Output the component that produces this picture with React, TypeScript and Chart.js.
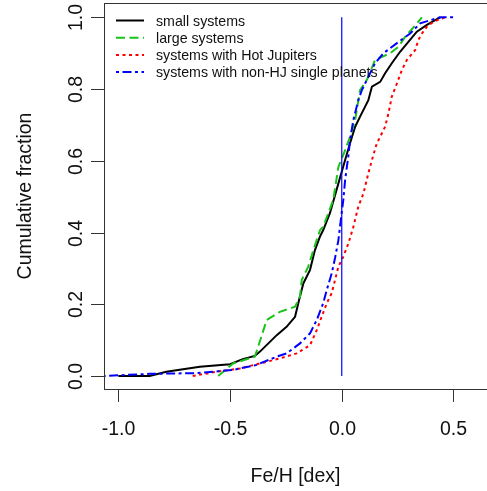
import React, { useEffect, useRef } from "react";
import { Chart, registerables } from "chart.js";

Chart.register(...registerables);

// ---- data ----
const xTicks = [-1.0, -0.5, 0.0, 0.5];
const yTicks = [0.0, 0.2, 0.4, 0.6, 0.8, 1.0];
const xTitle = "Fe/H [dex]";
const yTitle = "Cumulative fraction";
const seriesLabels = [
  "small systems",
  "large systems",
  "systems with Hot Jupiters",
  "systems with non-HJ single planets",
];

const smallX = [-1.0, -0.86, -0.785, -0.635, -0.5, -0.443, -0.389, -0.366, -0.291, -0.247, -0.209, -0.191, -0.172, -0.142, -0.12, -0.098, -0.083, -0.053, -0.015, 0.015, 0.037, 0.06, 0.082, 0.119, 0.135, 0.172, 0.194, 0.224, 0.261, 0.299, 0.336, 0.381, 0.418, 0.441];
const smallY = [0, 0, 0.012, 0.026, 0.033, 0.047, 0.056, 0.068, 0.114, 0.137, 0.165, 0.212, 0.258, 0.296, 0.351, 0.388, 0.407, 0.454, 0.537, 0.602, 0.649, 0.695, 0.723, 0.769, 0.807, 0.82, 0.844, 0.872, 0.904, 0.932, 0.96, 0.979, 0.992, 1.0];

const largeX = [-0.553, -0.486, -0.389, -0.374, -0.336, -0.277, -0.209, -0.187, -0.179, -0.15, -0.127, -0.097, -0.083, -0.038, -0.015, 0.015, 0.037, 0.06, 0.082, 0.112, 0.149, 0.217, 0.254, 0.284, 0.336, 0.359];
const largeY = [0, 0.035, 0.054, 0.082, 0.156, 0.179, 0.193, 0.221, 0.268, 0.305, 0.351, 0.407, 0.416, 0.491, 0.583, 0.63, 0.667, 0.714, 0.797, 0.825, 0.881, 0.9, 0.918, 0.946, 0.983, 1.0];

const hjX = [-0.667, -0.561, -0.456, -0.366, -0.277, -0.202, -0.142, -0.112, -0.09, -0.067, -0.045, -0.03, -0.015, 0.007, 0.03, 0.052, 0.074, 0.097, 0.119, 0.135, 0.157, 0.172, 0.194, 0.209, 0.224, 0.247, 0.269, 0.291, 0.329, 0.343, 0.359, 0.381, 0.411, 0.463];
const hjY = [0, 0.012, 0.021, 0.035, 0.049, 0.063, 0.086, 0.128, 0.165, 0.203, 0.231, 0.268, 0.305, 0.333, 0.37, 0.416, 0.472, 0.509, 0.565, 0.602, 0.649, 0.667, 0.695, 0.732, 0.779, 0.816, 0.853, 0.881, 0.909, 0.937, 0.955, 0.974, 0.988, 1.0];

const singleX = [-1.07, -0.86, -0.65, -0.486, -0.381, -0.291, -0.247, -0.187, -0.142, -0.112, -0.083, -0.067, -0.045, -0.03, -0.015, -0.008, 0.007, 0.015, 0.03, 0.037, 0.052, 0.074, 0.09, 0.119, 0.149, 0.187, 0.247, 0.306, 0.351, 0.396, 0.441, 0.508];
const singleY = [0, 0.006, 0.008, 0.017, 0.031, 0.054, 0.063, 0.091, 0.119, 0.156, 0.203, 0.24, 0.286, 0.329, 0.379, 0.416, 0.491, 0.546, 0.616, 0.658, 0.714, 0.769, 0.797, 0.834, 0.872, 0.9, 0.928, 0.955, 0.983, 0.992, 1.0, 1.0];

const refLineX = [0, 0];
const refLineY = [0, 1];

// ---- styles ----
const FONT = '"Liberation Sans", Arial, Helvetica, sans-serif';
const TEXT = "#111111";
const AXIS = "#333333";
const colors = ["#000000", "#19c319", "#ff0000", "#0000ff"];
const dashes: number[][] = [[], [9, 4.5], [3, 3.5], [3, 3.5, 9, 3.5]];

const toPts = (xs: number[], ys: number[]) => xs.map((x, i) => ({ x, y: ys[i] }));

const rStyle = {
  id: "rStyle",
  afterDraw(chart: any) {
    const { ctx, chartArea: a, scales } = chart;
    const xs = scales.x;
    const ys = scales.y;
    ctx.save();
    // box
    ctx.strokeStyle = AXIS;
    ctx.lineWidth = 1;
    ctx.setLineDash([]);
    ctx.strokeRect(a.left + 0.5, a.top + 0.5, a.right - a.left, a.bottom - a.top);
    // x ticks
    ctx.fillStyle = TEXT;
    ctx.font = `19.5px ${FONT}`;
    ctx.textAlign = "center";
    ctx.textBaseline = "alphabetic";
    for (const v of xTicks) {
      const px = Math.round(xs.getPixelForValue(v)) + 0.5;
      ctx.beginPath();
      ctx.moveTo(px, a.bottom);
      ctx.lineTo(px, a.bottom + 13);
      ctx.stroke();
      ctx.fillText(v.toFixed(1), px, 435);
    }
    // y ticks (labels rotated like R)
    for (const v of yTicks) {
      const py = Math.round(ys.getPixelForValue(v)) + 0.5;
      ctx.beginPath();
      ctx.moveTo(a.left, py);
      ctx.lineTo(a.left - 13, py);
      ctx.stroke();
      ctx.save();
      ctx.translate(82, py);
      ctx.rotate(-Math.PI / 2);
      ctx.fillText(v.toFixed(1), 0, 0);
      ctx.restore();
    }
    // titles
    ctx.fillText(xTitle, (a.left + a.right) / 2, 482);
    ctx.save();
    ctx.translate(31, (a.top + a.bottom) / 2);
    ctx.rotate(-Math.PI / 2);
    ctx.fillText(yTitle, 0, 0);
    ctx.restore();
    // legend
    ctx.font = `14.2px ${FONT}`;
    ctx.textAlign = "left";
    const rows = [20.5, 37.7, 54.9, 72.1];
    seriesLabels.forEach((lab, i) => {
      const y = rows[i];
      ctx.strokeStyle = colors[i];
      ctx.lineWidth = 2;
      ctx.setLineDash(dashes[i]);
      ctx.beginPath();
      ctx.moveTo(116, y);
      ctx.lineTo(144, y);
      ctx.stroke();
      ctx.fillStyle = TEXT;
      ctx.fillText(lab, 156, y + 5.1);
    });
    ctx.restore();
  },
};

export default function App() {
  const ref = useRef<HTMLCanvasElement | null>(null);
  useEffect(() => {
    document.body.style.margin = "0";
    const canvas = ref.current!;
    const mk = (i: number, xsArr: number[], ysArr: number[], order: number) => ({
      label: seriesLabels[i],
      data: toPts(xsArr, ysArr),
      borderColor: colors[i],
      backgroundColor: colors[i],
      borderWidth: 2,
      borderDash: dashes[i],
      pointRadius: 0,
      fill: false,
      tension: 0,
      order,
    });
    const chart = new Chart(canvas, {
      type: "line",
      data: {
        datasets: [
          mk(0, smallX, smallY, 4),
          mk(1, largeX, largeY, 3),
          mk(2, hjX, hjY, 2),
          mk(3, singleX, singleY, 1),
          {
            label: "Fe/H = 0",
            data: toPts(refLineX, refLineY),
            borderColor: "#0000ff",
            borderWidth: 1.2,
            pointRadius: 0,
            fill: false,
            order: 0,
          } as any,
        ],
      },
      options: {
        responsive: false,
        animation: false,
        devicePixelRatio: 1,
        layout: { padding: { left: 104, top: 3, right: 0, bottom: 102 } },
        scales: {
          x: { type: "linear", min: -1.064, max: 0.65, display: false },
          y: { type: "linear", min: -0.0362, max: 1.0399, display: false },
        },
        plugins: { legend: { display: false }, tooltip: { enabled: false } },
      },
      plugins: [rStyle],
    });
    return () => chart.destroy();
  }, []);
  return (
    <div style={{ position: "fixed", left: 0, top: 0, width: 487, height: 491, background: "#fff" }}>
      <canvas ref={ref} width={487} height={491} />
    </div>
  );
}
